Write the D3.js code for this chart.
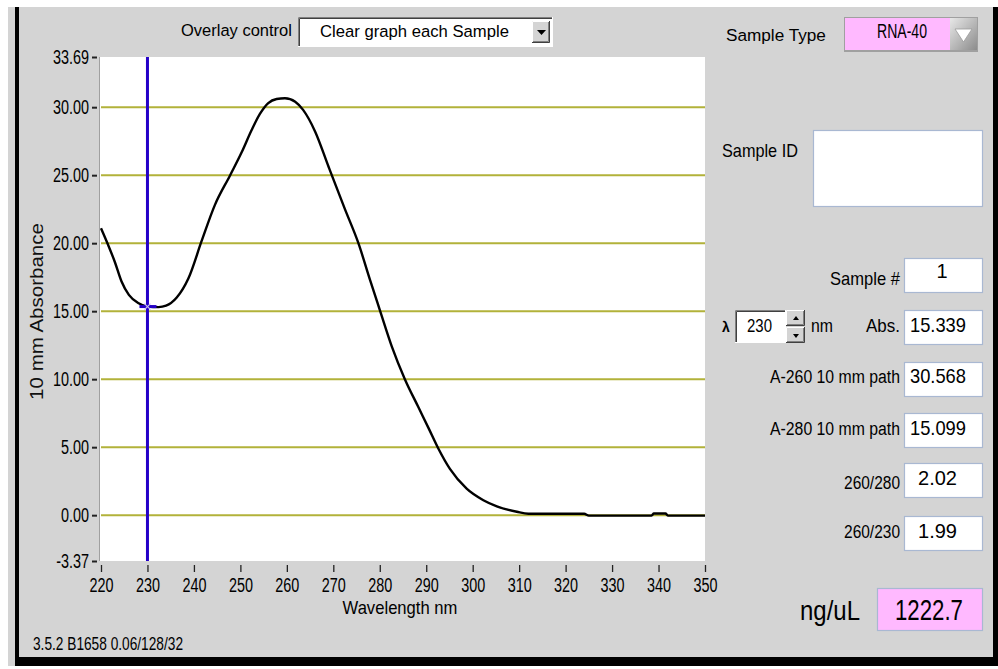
<!DOCTYPE html>
<html><head><meta charset="utf-8">
<script src="https://cdn.jsdelivr.net/npm/d3@7"></script>
<style>
html,body{margin:0;padding:0;background:#fff;}
svg{display:block;font-family:"Liberation Sans Narrow","Liberation Sans",Arial,sans-serif;}
</style></head>
<body>
<svg id="c" width="998" height="669"></svg>
<script>
// ---------- data ----------
const wavelength = [220,221.5,223,224.4,226,228,230,232.4,234,236.3,238.8,241.7,244.5,247.8,250.3,252.4,254.2,256,257.8,259.6,261.8,263.5,266.1,269,272.5,275.4,277.9,280,282.6,285.4,288.3,290.5,292.6,295.1,298.7,302.3,305.2,309.5,312,324,325,338.5,339,341.5,342,350];
const absorbance = [21.1,19.9,18.6,17.2,16.2,15.6,15.34,15.3,15.4,16.0,17.4,20.2,22.8,25.0,26.7,28.3,29.5,30.3,30.6,30.66,30.4,29.8,28.2,25.6,22.5,20.0,17.3,15.1,12.4,10.0,7.95,6.4,4.9,3.4,1.95,1.1,0.65,0.25,0.1,0.1,-0.03,-0.03,0.12,0.12,-0.03,-0.03];
const xTicks = [220,230,240,250,260,270,280,290,300,310,320,330,340,350];
const yTicks = [-3.37,0,5,10,15,20,25,30,33.69];
const gridValues = [0,5,10,15,20,25,30];
const xDomain = [220,350];
const yDomain = [-3.37,33.69];
const cursorNm = 230;
const cursorAbs = 15.339;
const overlayOption = "Clear graph each Sample";
const sampleType = "RNA-40";
const fieldLabels = ["Sample #","Abs.","A-260 10 mm path","A-280 10 mm path","260/280","260/230"];
const fieldValues = ["1","15.339","30.568","15.099","2.02","1.99"];
const concentration = "1222.7";
const versionText = "3.5.2 B1658 0.06/128/32";

// ---------- drawing ----------
const svg = d3.select("#c");
const FONT = "'Liberation Sans Narrow','Liberation Sans',Arial,sans-serif";

// text drawn at natural size, then horizontally scaled to the wanted width
function txt(x, y, s, o) {
  o = o || {};
  const g = svg.append("g");
  const t = g.append("text").attr("x", 0).attr("y", 0).text(s)
    .attr("font-size", o.size || 18).attr("fill", o.fill || "#000")
    .attr("text-anchor", o.anchor || "start");
  if (o.weight) t.attr("font-weight", o.weight);
  let k = 1;
  if (o.width) k = o.width / t.node().getComputedTextLength();
  g.attr("transform", `translate(${x},${y})${o.rotate ? ` rotate(${o.rotate})` : ""} scale(${k},1)`);
  return t;
}
// axis labels: digit width fixed to ~8 px at 20 px font, whatever font is found
const probe = svg.append("text").attr("font-size", 20).attr("font-family", FONT).text("0000");
const digitK = (4 * 0.556 * 20 * 0.72) / probe.node().getComputedTextLength();
probe.remove();
function condense(sel) {
  sel.each(function () {
    const w = this.getComputedTextLength();
    this.setAttribute("textLength", w * digitK);
    this.setAttribute("lengthAdjust", "spacingAndGlyphs");
  });
}
function sunken(x, y, w, h, fill) {
  svg.append("rect").attr("x", x).attr("y", y).attr("width", w).attr("height", h).attr("fill", fill || "#fff");
  svg.append("path").attr("d", `M${x+0.5},${y+h}V${y+0.5}H${x+w}`).attr("stroke", "#808080").attr("fill", "none");
  svg.append("path").attr("d", `M${x+1.5},${y+h-1}V${y+1.5}H${x+w-1}`).attr("stroke", "#404040").attr("fill", "none");
  svg.append("path").attr("d", `M${x},${y+h-0.5}H${x+w-0.5}V${y}`).attr("stroke", "#ffffff").attr("fill", "none");
}
function raised(x, y, w, h) {
  svg.append("rect").attr("x", x).attr("y", y).attr("width", w).attr("height", h).attr("fill", "#d4d4d4");
  svg.append("path").attr("d", `M${x+0.5},${y+h}V${y+0.5}H${x+w}`).attr("stroke", "#ffffff").attr("fill", "none");
  svg.append("path").attr("d", `M${x},${y+h-0.5}H${x+w-0.5}V${y}`).attr("stroke", "#404040").attr("fill", "none");
  svg.append("path").attr("d", `M${x+1},${y+h-1.5}H${x+w-1.5}V${y+1}`).attr("stroke", "#808080").attr("fill", "none");
}
function field(x, y, w, h, fill) {
  svg.append("rect").attr("x", x + 0.5).attr("y", y + 0.5).attr("width", w).attr("height", h)
    .attr("fill", fill || "#fff").attr("stroke", "#a9b8d2").attr("stroke-width", 1.2);
}

// background panel
svg.append("rect").attr("x", 8).attr("y", 7).attr("width", 990).attr("height", 662).attr("fill", "#d4d4d4");
svg.append("rect").attr("x", 15).attr("y", 7).attr("width", 4).attr("height", 659).attr("fill", "#000");
svg.append("rect").attr("x", 15).attr("y", 657).attr("width", 983).attr("height", 9).attr("fill", "#000");
svg.append("rect").attr("x", 993).attr("y", 7).attr("width", 5).attr("height", 659).attr("fill", "#000");
svg.append("rect").attr("x", 0).attr("y", 666).attr("width", 998).attr("height", 3).attr("fill", "#fff");

// scales
const plotL = 101, plotR = 705, plotT = 57, plotB = 561;
const x = d3.scaleLinear().domain(xDomain).range([plotL, plotR]);
const y = d3.scaleLinear().domain(yDomain).range([plotB, plotT]);

// plot area
svg.append("rect").attr("x", plotL - 1).attr("y", plotT).attr("width", plotR - plotL + 1).attr("height", plotB - plotT).attr("fill", "#fff");
svg.append("line").attr("x1", plotL - 1.5).attr("x2", plotL - 1.5).attr("y1", plotT).attr("y2", plotB).attr("stroke", "#a0a0a0").attr("stroke-width", 1);

// grid
svg.append("g").selectAll("line").data(gridValues).join("line")
  .attr("x1", plotL).attr("x2", plotR)
  .attr("y1", d => y(d)).attr("y2", d => y(d))
  .attr("stroke", "#b2b23a").attr("stroke-width", 2);

// axes
const fmt2 = d => d3.format(".2f")(d).replace("\u2212", "-");
const yAxis = svg.append("g").attr("transform", `translate(${plotL - 4},0)`)
  .call(d3.axisLeft(y).tickValues(yTicks).tickFormat(fmt2).tickSize(5).tickPadding(3));
yAxis.select(".domain").remove();
yAxis.selectAll("line").attr("stroke", "#222").attr("stroke-width", 2);
yAxis.selectAll("text").attr("font-size", 20).attr("font-family", FONT).attr("fill", "#000");
condense(yAxis.selectAll("text"));

const xAxis = svg.append("g").attr("transform", `translate(0,${plotB + 4})`)
  .call(d3.axisBottom(x).tickValues(xTicks).tickFormat(d3.format("d")).tickSize(7).tickPadding(6));
xAxis.select(".domain").remove();
xAxis.selectAll("line").attr("stroke", "#222").attr("stroke-width", 1.3);
xAxis.selectAll("text").attr("font-size", 20).attr("font-family", FONT).attr("fill", "#000");
condense(xAxis.selectAll("text"));

// curve
const pts = wavelength.map((w, i) => [w, absorbance[i]]);
svg.append("path").datum(pts)
  .attr("d", d3.line().x(d => x(d[0])).y(d => y(d[1])).curve(d3.curveMonotoneX))
  .attr("fill", "none").attr("stroke", "#000").attr("stroke-width", 2.4).attr("stroke-linejoin", "round");

// cursor
svg.append("line").attr("x1", x(cursorNm)).attr("x2", x(cursorNm)).attr("y1", plotT).attr("y2", plotB)
  .attr("stroke", "#2400c8").attr("stroke-width", 3);
svg.append("line").attr("x1", x(cursorNm) - 8).attr("x2", x(cursorNm) + 9).attr("y1", y(cursorAbs)).attr("y2", y(cursorAbs))
  .attr("stroke", "#2400c8").attr("stroke-width", 3);
svg.append("path").attr("d", `M${x(cursorNm)-3},${y(cursorAbs)-3}L${x(cursorNm)+3},${y(cursorAbs)+3}M${x(cursorNm)+3},${y(cursorAbs)-3}L${x(cursorNm)-3},${y(cursorAbs)+3}`)
  .attr("stroke", "#c8c0f0").attr("stroke-width", 1.2);

// axis titles
txt(400, 614, "Wavelength nm", { size: 19, anchor: "middle", width: 115 });
txt(43, 311.5, "10 mm Absorbance", { size: 19, anchor: "middle", width: 177, fill: "#111", rotate: -90 });
txt(33, 650, versionText, { size: 18.6, width: 150 });

// overlay control
txt(181, 36, "Overlay control", { size: 17, width: 111 });
sunken(298, 17, 255, 30, "#fff");
txt(320, 37, overlayOption, { size: 17, width: 189 });
raised(532, 21, 18, 22);
svg.append("path").attr("d", "M537,30H546L541.5,35Z").attr("fill", "#000");

// sample type
txt(726, 41, "Sample Type", { size: 17, width: 100 });
svg.append("rect").attr("x", 844).attr("y", 17).attr("width", 134).attr("height", 35).attr("fill", "#a0a0a0");
svg.append("rect").attr("x", 845).attr("y", 18).attr("width", 105).attr("height", 32).attr("fill", "#ffb9ff");
const grad = svg.append("defs").append("linearGradient").attr("id", "btn").attr("x1", 0).attr("y1", 0).attr("x2", 1).attr("y2", 1);
grad.append("stop").attr("offset", "0").attr("stop-color", "#e8e8e8");
grad.append("stop").attr("offset", "1").attr("stop-color", "#8c8c8c");
svg.append("rect").attr("x", 950).attr("y", 18).attr("width", 27).attr("height", 32).attr("fill", "url(#btn)");
svg.append("path").attr("d", "M955,29H972L963.5,42Z").attr("fill", "#fff").attr("stroke", "#9a9a9a").attr("stroke-width", 0.8);
txt(877, 38, sampleType, { size: 20, width: 50 });

// sample ID
txt(722, 157, "Sample ID", { size: 18, width: 76 });
field(813, 130, 169, 76);

// readout fields
const rows = [
  { by: 258, lb: 285, vb: 278, lx: 900, lw: 70, vx: 942, anchor: "middle" },
  { by: 310, lb: 332, vb: 332, lx: 900, lw: 34, vx: 910, vw: 56 },
  { by: 362, lb: 383, vb: 383, lx: 900, lw: 130, vx: 910, vw: 56 },
  { by: 413, lb: 435, vb: 435, lx: 900, lw: 130, vx: 910, vw: 56 },
  { by: 463, lb: 489, vb: 485, lx: 900, lw: 56, vx: 918, vw: 39 },
  { by: 516, lb: 538, vb: 538, lx: 900, lw: 56, vx: 918, vw: 39 }
];
rows.forEach((r, i) => {
  field(904, r.by, 78, 34);
  txt(r.lx, r.lb, fieldLabels[i], { size: 19, anchor: "end", width: r.lw });
  txt(r.vx, r.vb, fieldValues[i], { size: 20, anchor: r.anchor || "start", width: r.vw });
});

// wavelength spin control
txt(722, 332, "λ", { size: 14, weight: "bold" });
sunken(735, 310, 51, 33, "#fff");
txt(747, 332, String(cursorNm), { size: 19, width: 25 });
raised(786, 310, 19, 16);
raised(786, 327, 19, 16);
svg.append("path").attr("d", "M793,320H799L796,316Z").attr("fill", "#000");
svg.append("path").attr("d", "M793,334H799L796,338Z").attr("fill", "#000");
txt(811, 332, "nm", { size: 19, width: 22 });

// concentration
txt(800, 620, "ng/uL", { size: 27, width: 60 });
field(877, 588, 105, 42, "#ffb9ff");
txt(895, 620, concentration, { size: 29, width: 68 });
</script>
</body></html>
